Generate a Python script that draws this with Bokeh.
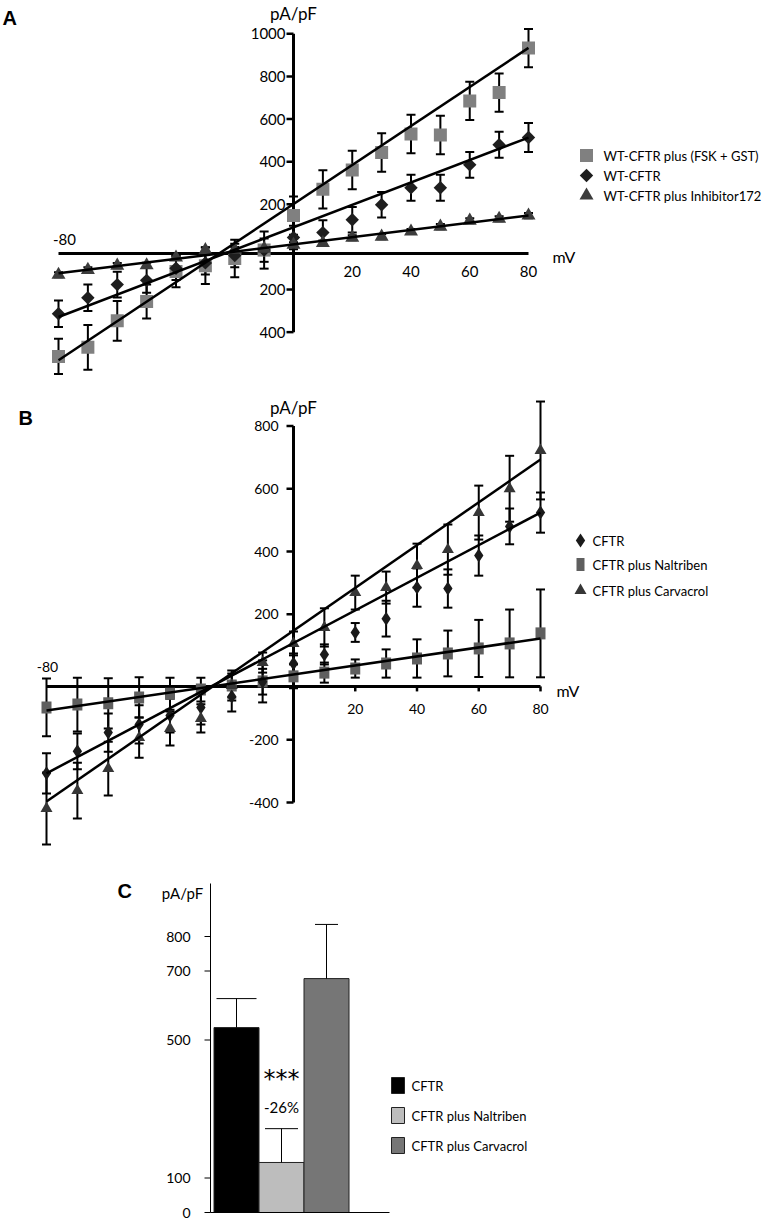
import numpy as np
from bokeh.plotting import figure
from bokeh.models import Range1d
from bokeh.core.properties import value
from bokeh.embed import file_html
from bokeh.resources import INLINE

# ---------------- data ----------------
mV = [-80, -70, -60, -50, -40, -30, -20, -10, 0, 10, 20, 30, 40, 50, 60, 70, 80]

# Panel A
A_names = ["WT-CFTR plus (FSK + GST)", "WT-CFTR", "WT-CFTR plus Inhibitor172"]
A_fsk = [-514, -471, -347, -256, -116, -88, -54, -15, 147, 270, 361, 443, 530, 525, 685, 724, 933]
A_fsk_err = [83, 105, 93, 80, 73, 86, 88, 87, 90, 90, 90, 90, 90, 90, 90, 90, 90]
A_wt = [-314, -239, -177, -157, -100, -75, -40, -15, 44, 67, 127, 198, 278, 278, 385, 479, 513]
A_wt_err = [62, 62, 60, 58, 55, 55, 55, 55, 55, 58, 60, 60, 61, 61, 60, 61, 68]
A_inh = [-131, -108, -88, -86, -50, -15, -13, -8, 10, 18, 43, 48, 72, 95, 123, 132, 147]
A_inh_err = [12, 12, 12, 12, 12, 12, 12, 12, 12, 12, 12, 12, 12, 12, 12, 12, 12]
A_fit_x = [-80, 80]
A_fit_fsk = [-532, 934]
A_fit_wt = [-329, 513]
A_fit_inh = [-124, 147]
A_yticks = [1000, 800, 600, 400, 200, -200, -400]
A_ytick_labels = ["1000", "800", "600", "400", "200", "200", "400"]
A_xticks = [20, 40, 60, 80]
A_xtick_labels = ["20", "40", "60", "80"]
A_xaxis_at = -31

# Panel B
B_names = ["CFTR", "CFTR plus Naltriben", "CFTR plus Carvacrol"]
B_cftr = [-307, -237, -177, -151, -123, -97, -62, -15, 43, 72, 142, 186, 285, 282, 387, 480, 524]
B_cftr_err = [64, 57, 61, 61, 54, 54, 48, 41, 32, 32, 30, 57, 61, 61, 64, 57, 64]
B_nal = [-97, -88, -84, -65, -53, -40, -27, -14, 2, 14, 27, 43, 59, 75, 91, 107, 139]
B_nal_err = [92, 86, 80, 64, 51, 38, 48, 67, 38, 32, 29, 45, 61, 73, 91, 108, 140]
B_carv = [-419, -362, -292, -193, -164, -132, -27, 46, 107, 158, 269, 285, 355, 406, 524, 600, 722]
B_carv_err = [115, 89, 86, 64, 54, 45, 38, 32, 38, 61, 54, 51, 70, 80, 86, 105, 156]
B_fit_x = [-80, 80]
B_fit_cftr = [-307, 524]
B_fit_nal = [-107, 123]
B_fit_carv = [-397, 693]
B_yticks = [800, 600, 400, 200, -200, -400]
B_ytick_labels = ["800", "600", "400", "200", "-200", "-400"]
B_xticks = [20, 40, 60, 80]
B_xtick_labels = ["20", "40", "60", "80"]
B_xaxis_at = -30

# Panel C
C_names = ["CFTR", "CFTR plus Naltriben", "CFTR plus Carvacrol"]
C_vals = [536, 145, 678]
C_err = [84, 98, 157]
C_yticks = [0, 100, 500, 700, 800]
C_ytick_labels = ["0", "100", "500", "700", "800"]
C_sig = "***"
C_pct = "-26%"

# ---------------- layout helpers ----------------
W, H, M = 767, 1221, 0
FONT = "Lato"


def make_x(v1, p1, v2, p2):
    s = (p2 - p1) / (v2 - v1)
    start = v1 - (p1 - M) / s
    return Range1d(start=start, end=start + W / s), s


def make_y(v1, p1, v2, p2):
    s = (p1 - p2) / (v2 - v1)
    end = v1 + (p1 - M) / s
    return Range1d(start=end - H / s, end=end), s


xA, sxA = make_x(0, 293, 80, 528)
yA, syA = make_y(0, 246.4, 1000, 33.3)
xB, sxB = make_x(0, 293, 80, 540)
yB, syB = make_y(-400, 802, 800, 425.5)
xC, sxC = make_x(0, 236, 1, 281)
yC, syC = make_y(0, 1212, 800, 936)

R = {"A": (xA, sxA, yA, syA), "B": (xB, sxB, yB, syB), "C": (xC, sxC, yC, syC)}


def pos(panel, px, py):
    xr, sx, yr, sy = R[panel]
    return xr.start + (px - M) / sx, yr.end - (py - M) / sy


def kw(panel):
    return dict(x_range_name="x" + panel, y_range_name="y" + panel)


p = figure(width=W, height=H, output_backend="svg", toolbar_location=None,
           x_axis_type=None, y_axis_type=None,
           x_range=Range1d(0, W), y_range=Range1d(0, H), min_border=0)
p.outline_line_color = None
p.background_fill_color = "white"
p.extra_x_ranges = {"xA": xA, "xB": xB, "xC": xC}
p.extra_y_ranges = {"yA": yA, "yB": yB, "yC": yC}


def txt(panel, xs, ys, texts, size, align="left", baseline="middle", xo=0, yo=0,
        font=FONT, style="normal", color="black"):
    p.text(x=list(xs), y=list(ys), text=list(texts), text_font=value(font),
           text_font_size=f"{size}px", text_align=align, text_baseline=baseline,
           x_offset=xo, y_offset=yo, text_font_style=style, text_color=color, **kw(panel))


def errbars(panel, x, y, e, cap=9, lw=2):
    y = np.array(y, dtype=float)
    e = np.array(e, dtype=float)
    p.segment(x0=x, y0=y - e, x1=x, y1=y + e, line_color="black", line_width=lw, **kw(panel))
    p.scatter(x=list(x) + list(x), y=list(y - e) + list(y + e), marker="dash", size=cap,
              line_color="black", line_width=lw, **kw(panel))


# ================= Panel A =================
p.segment(x0=[-80], y0=[A_xaxis_at], x1=[80], y1=[A_xaxis_at], line_color="black", line_width=3, **kw("A"))
p.segment(x0=[0], y0=[-400], x1=[0], y1=[1000], line_color="black", line_width=3, **kw("A"))
tA = 7 / sxA
p.segment(x0=[-tA] * len(A_yticks), y0=A_yticks, x1=[0] * len(A_yticks), y1=A_yticks,
          line_color="black", line_width=2.5, **kw("A"))
txt("A", [0] * len(A_yticks), A_yticks, A_ytick_labels, 15, align="right", xo=-8)
txt("A", A_xticks, [A_xaxis_at] * len(A_xticks), A_xtick_labels, 15, align="center", yo=18)
txt("A", [-80], [A_xaxis_at], ["-80"], 15, align="center", xo=6, yo=-14)
txt("A", [80], [A_xaxis_at], ["mV"], 16, align="left", xo=24, yo=3)
txt("A", [0], [1000], ["pA/pF"], 17, align="center", yo=-20)

errbars("A", mV, A_fsk, A_fsk_err)
errbars("A", mV, A_wt, A_wt_err)
errbars("A", mV, A_inh, A_inh_err)
p.scatter(mV, A_fsk, marker="square", size=13, fill_color="#808080", line_color=None, **kw("A"))
p.scatter(mV, A_wt, marker="square", angle=np.pi / 4, size=9.5, fill_color="#1e1e1e", line_color=None, **kw("A"))
p.scatter(mV, A_inh, marker="triangle", size=14, fill_color="#3c3c3c", line_color=None, **kw("A"))
for fy in (A_fit_fsk, A_fit_wt, A_fit_inh):
    p.line(A_fit_x, fy, line_color="black", line_width=2.5, **kw("A"))

lx, _ = pos("A", 586, 0)
ly = [pos("A", 0, py)[1] for py in (155, 175, 195)]
tx, _ = pos("A", 603, 0)
p.scatter([lx], [ly[0]], marker="square", size=13, fill_color="#808080", line_color=None, **kw("A"))
p.scatter([lx], [ly[1]], marker="square", angle=np.pi / 4, size=9.5, fill_color="#1e1e1e", line_color=None, **kw("A"))
p.scatter([lx], [ly[2]], marker="triangle", size=14, fill_color="#3c3c3c", line_color=None, **kw("A"))
txt("A", [tx] * 3, ly, A_names, 13)

ax, ay = pos("A", 2, 17)
txt("A", [ax], [ay], ["A"], 20, font="Liberation Sans", style="bold")

# ================= Panel B =================
p.segment(x0=[-80], y0=[B_xaxis_at], x1=[80], y1=[B_xaxis_at], line_color="black", line_width=3, **kw("B"))
p.segment(x0=[0], y0=[-400], x1=[0], y1=[800], line_color="black", line_width=3, **kw("B"))
tB = 7 / sxB
p.segment(x0=[-tB] * len(B_yticks), y0=B_yticks, x1=[0] * len(B_yticks), y1=B_yticks,
          line_color="black", line_width=2.5, **kw("B"))
tBy = 5 / syB
p.segment(x0=B_xticks, y0=[B_xaxis_at] * 4, x1=B_xticks, y1=[B_xaxis_at - tBy] * 4,
          line_color="black", line_width=2.5, **kw("B"))
txt("B", [0] * len(B_yticks), B_yticks, B_ytick_labels, 14, align="right", xo=-15)
txt("B", B_xticks, [B_xaxis_at] * len(B_xticks), B_xtick_labels, 14, align="center", yo=23)
txt("B", [-80], [B_xaxis_at], ["-80"], 14, align="center", xo=1, yo=-19)
txt("B", [80], [B_xaxis_at], ["mV"], 16, align="left", xo=16, yo=4)
txt("B", [0], [800], ["pA/pF"], 17, align="center", yo=-19)

errbars("B", mV, B_nal, B_nal_err)
errbars("B", mV, B_cftr, B_cftr_err)
errbars("B", mV, B_carv, B_carv_err)
p.rect(mV, B_nal, width=10, height=12, width_units="screen", height_units="screen",
       fill_color="#5f5f5f", line_color=None, **kw("B"))
p.scatter(mV, B_cftr, marker="diamond", size=14, fill_color="#1a1a1a", line_color=None, **kw("B"))
p.scatter(mV, B_carv, marker="triangle", size=12, fill_color="#363636", line_color=None, **kw("B"))
for fy in (B_fit_cftr, B_fit_nal, B_fit_carv):
    p.line(B_fit_x, fy, line_color="black", line_width=2.5, **kw("B"))

lx, _ = pos("B", 580, 0)
ly = [pos("B", 0, py)[1] for py in (540, 564, 590)]
tx, _ = pos("B", 592, 0)
p.scatter([lx], [ly[0]], marker="diamond", size=14, fill_color="#1a1a1a", line_color=None, **kw("B"))
p.rect([lx], [ly[1]], width=8, height=13, width_units="screen", height_units="screen",
       fill_color="#5f5f5f", line_color=None, **kw("B"))
p.scatter([lx], [ly[2]], marker="triangle", size=12, fill_color="#363636", line_color=None, **kw("B"))
txt("B", [tx] * 3, ly, B_names, 13)

bx, by = pos("B", 18, 417)
txt("B", [bx], [by], ["B"], 20, font="Liberation Sans", style="bold")

# ================= Panel C =================
C_colors = ["#000000", "#bdbdbd", "#767676"]
cx = [0, 1, 2]
axis_x, _ = pos("C", 210, 0)
_, top_y = pos("C", 0, 883)
right_x, _ = pos("C", 389, 0)
p.vbar(x=cx, top=C_vals, bottom=0, width=1.0, fill_color=C_colors, line_color="#222222", line_width=1, **kw("C"))
ce = np.array(C_err, dtype=float)
cv = np.array(C_vals, dtype=float)
p.segment(x0=cx, y0=cv, x1=cx, y1=cv + ce, line_color="black", line_width=1, **kw("C"))
p.scatter(x=cx, y=cv + ce, marker="dash", size=[40, 33, 23], line_color="black", line_width=1, **kw("C"))

p.segment(x0=[axis_x], y0=[0], x1=[axis_x], y1=[top_y], line_color="black", line_width=1, **kw("C"))
p.segment(x0=[axis_x], y0=[0], x1=[right_x], y1=[0], line_color="black", line_width=1, **kw("C"))
tC = 6 / sxC
p.segment(x0=[axis_x - tC] * len(C_yticks), y0=C_yticks, x1=[axis_x] * len(C_yticks), y1=C_yticks,
          line_color="black", line_width=1, **kw("C"))
txt("C", [axis_x] * len(C_yticks), C_yticks, C_ytick_labels, 14, align="right", xo=-20)
plx, ply = pos("C", 182, 892)
txt("C", [plx], [ply], ["pA/pF"], 15, align="center")
txt("C", [1], [C_vals[1] + C_err[1]], [C_sig], 24, align="center", yo=-50, font="DejaVu Sans")
txt("C", [1], [C_vals[1] + C_err[1]], [C_pct], 15, align="center", yo=-22)

lx, _ = pos("C", 397.5, 0)
ly = [pos("C", 0, py)[1] for py in (1085, 1115, 1145)]
tx, _ = pos("C", 411, 0)
p.rect([lx] * 3, ly, width=13, height=16, width_units="screen", height_units="screen",
       fill_color=C_colors, line_color="#222222", line_width=1, **kw("C"))
txt("C", [tx] * 3, ly, C_names, 13)

ccx, ccy = pos("C", 117, 890)
txt("C", [ccx], [ccy], ["C"], 20, font="Liberation Sans", style="bold")

open("out.html", "w").write(file_html(p, INLINE))
